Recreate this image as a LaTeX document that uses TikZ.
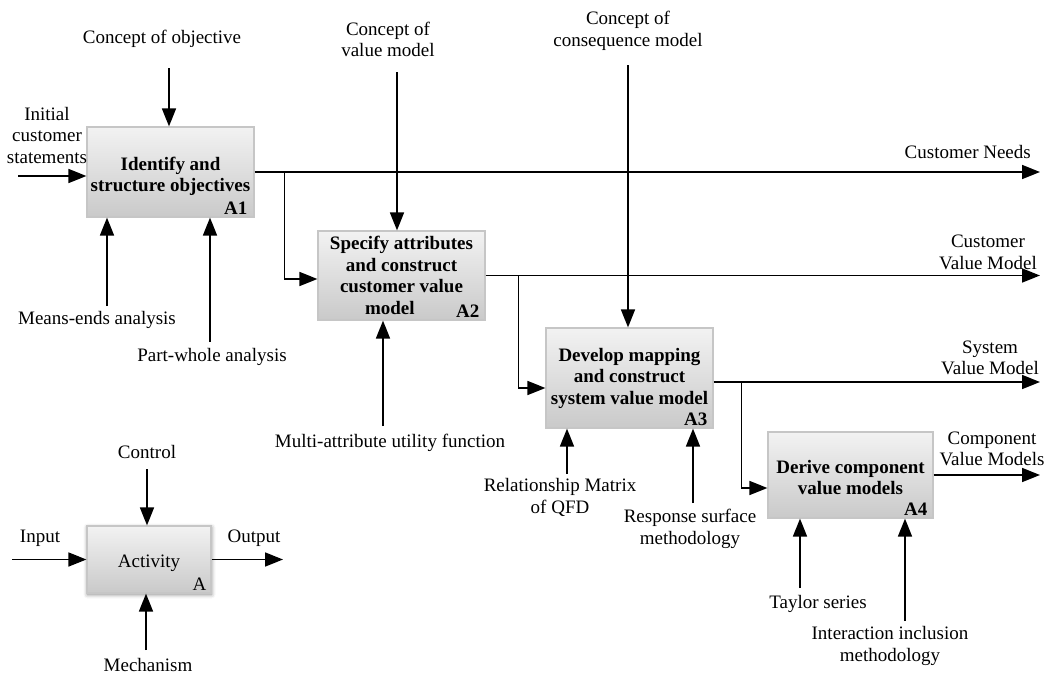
\documentclass[tikz,border=0pt]{standalone}
\usepackage{fontspec}
\setmainfont{Liberation Serif}
\usetikzlibrary{arrows.meta,shadows.blur}
\begin{document}
\begin{tikzpicture}[x=1pt,y=-1pt,
  every node/.style={font=\fontsize{19}{21.5}\selectfont},
  box/.style={draw=gray!45, line width=1.2pt, top color=gray!10, bottom color=gray!42,
    align=center, inner sep=0pt, font=\fontsize{19}{21.5}\selectfont\bfseries},
  tag/.style={anchor=base east, inner sep=0pt, font=\fontsize{19}{21.5}\selectfont\bfseries},
  lbl/.style={align=center, inner sep=0pt},
  arr/.style={line width=1.7pt, -{Triangle[length=18pt,width=14pt]}}
]
\useasboundingbox (0,0) rectangle (1052,675);

% activity boxes
\node[box, minimum width=167pt, minimum height=90pt] (A1) at (170.5,172)
  {\rule{0pt}{22pt}Identify and\\structure objectives};
\node[box, minimum width=167pt, minimum height=89pt] (A2) at (401.5,275.5)
  {Specify attributes\\and construct\\customer value\\model\phantom{A2}};
\node[box, minimum width=167pt, minimum height=100pt] (A3) at (629.5,378)
  {Develop mapping\\and construct\\system value model};
\node[box, minimum width=165pt, minimum height=86pt] (A4) at (850.5,475)
  {\rule{0pt}{18pt}Derive component\\value models};
\node[box, minimum width=124pt, minimum height=67pt, font=\fontsize{19}{21.5}\selectfont,
  blur shadow={shadow xshift=0.5pt, shadow yshift=-1.5pt, shadow blur radius=4pt, shadow opacity=50}]
  (A) at (149,559.5) {\rule{0pt}{20pt}Activity};

\node[tag] (tA1) at ([xshift=-7pt,yshift=3pt]A1.south east) {A1};
\node[tag] (tA2) at ([xshift=-6pt,yshift=3pt]A2.south east) {A2};
\node[tag] (tA3) at ([xshift=-6pt,yshift=3pt]A3.south east) {A3};
\node[tag] (tA4) at ([xshift=-6pt,yshift=3pt]A4.south east) {A4};
\node[tag, font=\fontsize{19}{21.5}\selectfont] (tA) at ([xshift=-5pt,yshift=3pt]A.south east) {A};

% right edge for outputs
\coordinate (outx) at (1040,0);

% outputs and their labels
\draw[arr] (A1.east) -- (A1.east -| outx);
\node[lbl, anchor=east] (oNeeds) at (1031,152) {Customer Needs};
\draw[arr] (A2.east) -- (A2.east -| outx);
\node[lbl] (oCVM) at (988,252.5) {Customer\\Value Model};
\draw[arr] ([yshift=-4pt]A3.east) -- ([yshift=-4pt]A3.east -| outx);
\node[lbl] (oSVM) at (990,358) {System\\Value Model};
\draw[arr] (A4.east) -- (A4.east -| outx);
\node[lbl] (oComp) at (992,449) {Component\\Value Models};

% outputs feeding the next activity
\draw[arr] ([xshift=30pt]A1.east) |- ([yshift=-3.5pt]A2.west);
\draw[arr] ([xshift=33pt]A2.east) |- ([yshift=-10pt]A3.west);
\draw[arr] ([xshift=28pt,yshift=-4pt]A3.east) |- ([yshift=-13pt]A4.west);

% inputs
\node[lbl] (iInit) at (47,135) {Initial\\customer\\statements};
\coordinate (iInitS) at (18,176);
\draw[arr] (iInitS) -- (iInitS -| A1.west);

% controls
\node[lbl] (cObj) at (162,39) {Concept of objective};
\coordinate (cObjS) at (169,68);
\draw[arr] (cObjS) -- (cObjS |- A1.north);

\node[lbl] (cVal) at (388,39.5) {Concept of\\value model};
\coordinate (cValS) at (397,72);
\draw[arr] (cValS) -- (cValS |- A2.north);

\node[lbl] (cCons) at (628,31) {Concept of\\consequence model};
\coordinate (cConsS) at (628,65);
\draw[arr] (cConsS) -- (cConsS |- A3.north);

% mechanisms
\node[lbl] (mME) at (97,320) {Means-ends analysis};
\coordinate (mMES) at (107,306);
\draw[arr] (mMES) -- (mMES |- A1.south);

\node[lbl] (mPW) at (212,357) {Part-whole analysis};
\coordinate (mPWS) at (210,342);
\draw[arr] (mPWS) -- (mPWS |- A1.south);

\node[lbl] (mMA) at (390,443) {Multi-attribute utility function};
\coordinate (mMAS) at (383,426);
\draw[arr] (mMAS) -- (mMAS |- A2.south);

\node[lbl] (mRM) at (560,497.5) {Relationship Matrix\\of QFD};
\coordinate (mRMS) at (567,474);
\draw[arr] (mRMS) -- (mRMS |- A3.south);

\node[lbl] (mRS) at (690,529) {Response surface\\methodology};
\coordinate (mRSS) at (693,503);
\draw[arr] (mRSS) -- (mRSS |- A3.south);

\node[lbl] (mTS) at (818,604) {Taylor series};
\coordinate (mTSS) at (800,588);
\draw[arr] (mTSS) -- (mTSS |- A4.south);

\node[lbl] (mII) at (890,646) {Interaction inclusion\\methodology};
\coordinate (mIIS) at (905,621);
\draw[arr] (mIIS) -- (mIIS |- A4.south);

% legend: generic activity
\node[lbl] (lCtl) at (147,452) {Control};
\coordinate (lCtlS) at (147,469);
\draw[arr] (lCtlS) -- (lCtlS |- A.north);

\node[lbl] (lIn) at (40,538) {Input};
\coordinate (lInS) at (12,0);
\draw[arr] (lInS |- A.west) -- (A.west);

\node[lbl] (lOut) at (254,538) {Output};
\coordinate (lOutE) at (283,0);
\draw[arr] (A.east) -- (A.east -| lOutE);

\node[lbl] (lMech) at (148,665) {Mechanism};
\coordinate (lMechS) at (146,650);
\draw[arr] (lMechS) -- (lMechS |- A.south);
\end{tikzpicture}
\end{document}
